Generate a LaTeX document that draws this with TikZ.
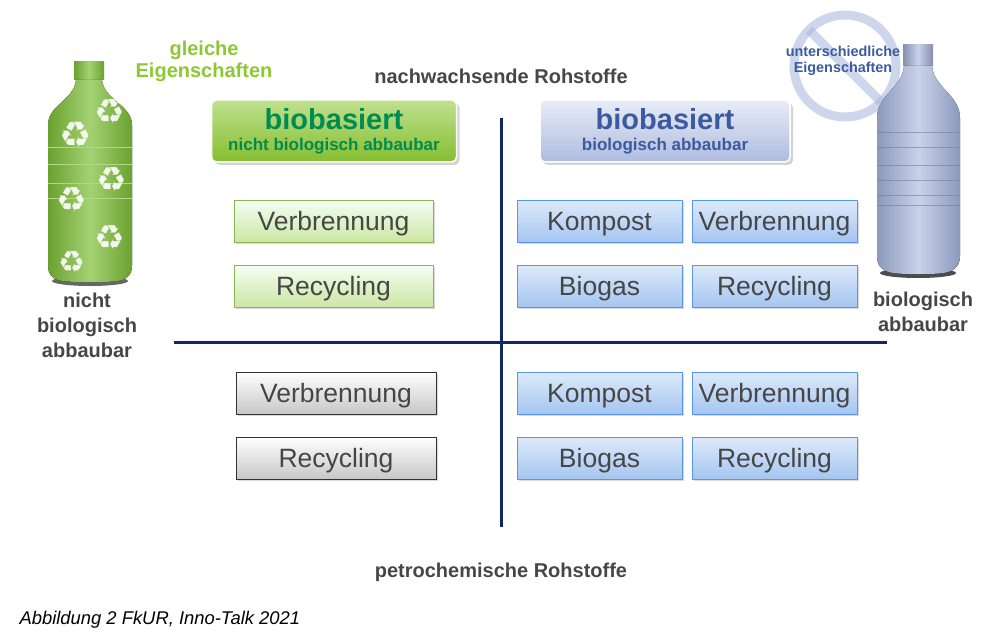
\documentclass[tikz,border=0pt]{standalone}
\usepackage{fontspec}
\setmainfont{Liberation Sans}
\newfontfamily\dejavu{DejaVu Sans}
\usetikzlibrary{shadows}
\definecolor{navy}{RGB}{16,40,96}
\definecolor{txtgray}{RGB}{70,70,70}
\definecolor{lgreen}{RGB}{140,200,50}
\definecolor{dgreen}{RGB}{0,140,80}
\definecolor{bblue}{RGB}{60,90,160}
\definecolor{boxblue}{RGB}{90,150,230}
\definecolor{bottleblue}{RGB}{165,180,220}
\definecolor{bottlegreen}{RGB}{125,190,55}
\tikzset{
  opt/.style={draw, line width=1pt, minimum width=#1, minimum height=42pt, inner sep=0pt,
     text height=19pt, text depth=0pt,
     font=\fontsize{26.5}{26}\selectfont, text=txtgray, drop shadow={shadow xshift=2pt,shadow yshift=-2pt,opacity=0.3}},
  gopt/.style={opt=199pt, draw=lgreen!80!black!80, top color=green!5!white, bottom color=lgreen!45!white},
  kopt/.style={opt=200pt, draw=black!80, top color=white, bottom color=black!22},
  bopt/.style={opt=165pt, draw=boxblue, top color=boxblue!20!white, bottom color=boxblue!55!white},
  hdr/.style={rounded corners=5pt, minimum width=#1, minimum height=62pt, inner sep=0pt, align=center,
     drop shadow={shadow xshift=3pt,shadow yshift=-3pt,opacity=0.35}, draw=white, line width=1.5pt},
  lbl/.style={font=\bfseries\fontsize{20}{24}\selectfont, text=txtgray, align=center},
  axis/.style={navy, line width=3pt}
}
\begin{document}
\begin{tikzpicture}[x=1pt,y=-1pt]
\useasboundingbox (0,0) rectangle (1000,639);
% axes
\coordinate (vt) at (501,118); \coordinate (vb) at (501,527);
\coordinate (hl) at (174,342); \coordinate (hr) at (887,342);
\draw[axis] (vt) -- (vb);
\draw[axis] (hl) -- (hr);
% labels
\node[lbl] (nach) at (501,76) {nachwachsende Rohstoffe};
\node[lbl] (petro) at (501,572) {petrochemische Rohstoffe};
\node[font=\itshape\fontsize{18.4}{20}\selectfont, anchor=west] (cap) at (16,620) {Abbildung 2 FkUR, Inno-Talk 2021};
\node[lbl, text=lgreen, font=\bfseries\fontsize{20}{22}\selectfont] (gleich) at (204,61) {gleiche\\Eigenschaften};
\node[lbl, font=\bfseries\fontsize{20}{25}\selectfont] (nba) at (87,325) {nicht\\biologisch\\abbaubar};
\node[lbl, font=\bfseries\fontsize{20}{25}\selectfont] (ba) at (923,312) {biologisch\\abbaubar};
% headers
\node[hdr=245pt, top color=lgreen!55!white, bottom color=lgreen!95!black] (hg) at (334,131)
  {\textcolor{dgreen}{\bfseries\fontsize{29}{30}\selectfont biobasiert}\\[7pt]\textcolor{dgreen}{\bfseries\fontsize{17}{18}\selectfont nicht biologisch abbaubar}};
\node[hdr=250pt, top color=bottleblue!25!white, bottom color=bottleblue!90!white] (hb) at (665,131)
  {\textcolor{bblue}{\bfseries\fontsize{29}{30}\selectfont biobasiert}\\[7pt]\textcolor{bblue}{\bfseries\fontsize{17}{18}\selectfont biologisch abbaubar}};
% option boxes
\node[gopt] (g1) at (333.5,221) {Verbrennung};
\node[gopt] (g2) at (333.5,286) {Recycling};
\node[kopt] (k1) at (336,393) {Verbrennung};
\node[kopt] (k2) at (336,458) {Recycling};
\node[bopt] (b1) at (599.5,221) {Kompost};
\node[bopt] (b2) at (774.5,221) {Verbrennung};
\node[bopt] (b3) at (599.5,286) {Biogas};
\node[bopt] (b4) at (774.5,286) {Recycling};
\node[bopt] (b5) at (599.5,393) {Kompost};
\node[bopt] (b6) at (774.5,393) {Verbrennung};
\node[bopt] (b7) at (599.5,458) {Biogas};
\node[bopt] (b8) at (774.5,458) {Recycling};
% green bottle
\fill[black!60] (90,281) ellipse (38 and 5);
\fill[left color=bottlegreen!85!black, right color=bottlegreen!85!black, middle color=bottlegreen!70!white]
  (74,62) rectangle (104,80);
\fill[left color=bottlegreen!85!black, right color=bottlegreen!85!black, middle color=bottlegreen!70!white]
  (76,80) -- (102,80) .. controls (104,100) and (132,105) .. (132,125) -- (132,265)
  .. controls (132,282) and (120,282) .. (90,282) .. controls (60,282) and (48,282) .. (48,265)
  -- (48,125) .. controls (48,105) and (74,100) .. (76,80) -- cycle;
\foreach \yy in {148,165,183,198} \draw[bottlegreen!60!white, line width=1pt] (48,\yy) -- (132,\yy);
\foreach \px/\py/\s in {110/112/34,76/135/36,112/180/34,72/200/34,110/238/34,72/262/30}
  \node[text=white, font=\dejavu\fontsize{\s}{\s}\selectfont, inner sep=0pt, opacity=0.9] at (\px,\py) {♻};
% prohibition sign
\begin{scope}[opacity=0.55]
\draw[bottleblue, line width=9pt] (845,66) circle (51);
\draw[bottleblue, line width=9pt] (809,30) -- (881,102);
\end{scope}
% blue bottle
\fill[black!70] (918,273) ellipse (38 and 5);
\fill[left color=bottleblue!80!black, right color=bottleblue!80!black, middle color=bottleblue!60!white]
  (903,45) rectangle (933,66);
\fill[left color=bottleblue!85!black, right color=bottleblue!85!black, middle color=bottleblue!60!white]
  (904,66) -- (932,66) .. controls (934,88) and (960,95) .. (960,118) -- (960,255)
  .. controls (960,274) and (945,274) .. (918,274) .. controls (891,274) and (877,274) .. (877,255)
  -- (877,118) .. controls (877,95) and (902,88) .. (904,66) -- cycle;
\foreach \yy in {132,147,165,180,195,205} \draw[bottleblue!70!black, line width=0.8pt, opacity=0.6] (877,\yy) -- (960,\yy);
\node[font=\bfseries\fontsize{14.4}{16}\selectfont, text=bblue, align=center] (unt) at (843,61) {unterschiedliche\\Eigenschaften};
\end{tikzpicture}
\end{document}
